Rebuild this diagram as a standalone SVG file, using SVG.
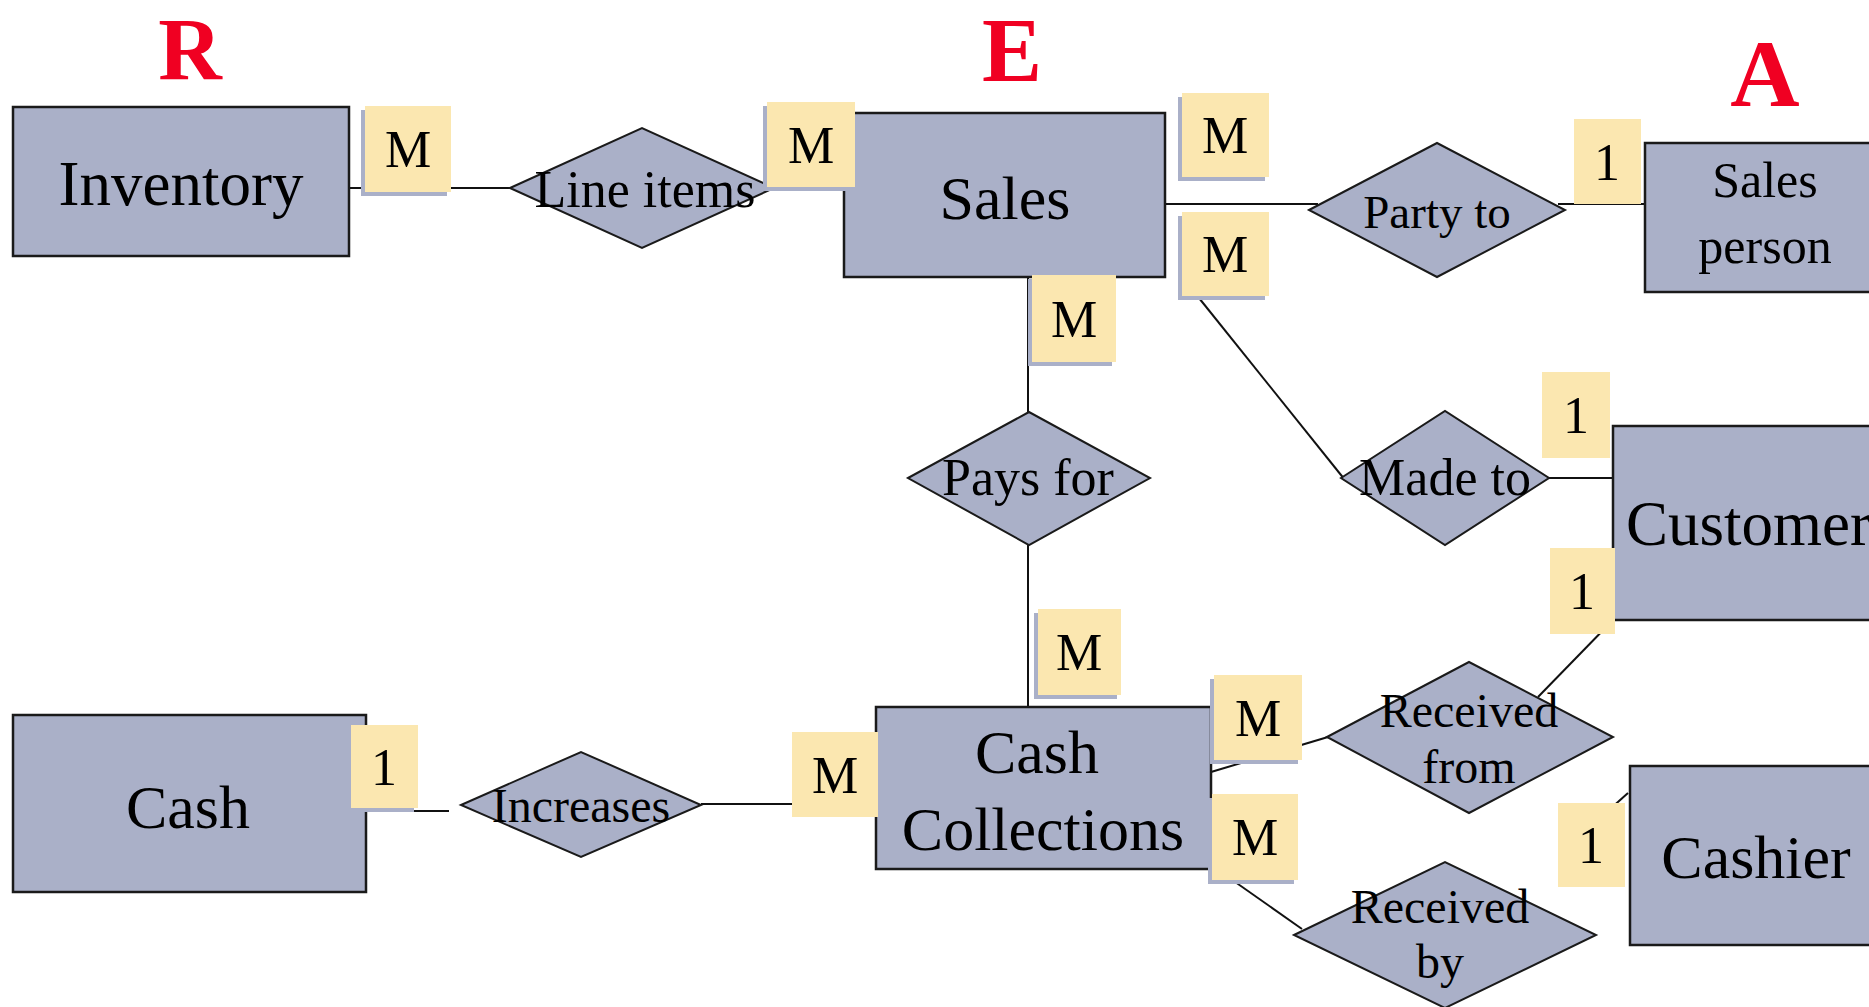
<svg xmlns="http://www.w3.org/2000/svg" width="1869" height="1007" viewBox="0 0 1869 1007">
<style>
.ent{fill:#aab0c8;stroke:#1a1a1a;stroke-width:2.5}
.rel{fill:#aab0c8;stroke:#1a1a1a;stroke-width:2}
.lab{fill:#fbe7b0}
.sh{fill:#aab0c8}
.t{font-family:"Liberation Serif","Times New Roman",serif;fill:#000;text-anchor:middle}
.title{font-family:"Liberation Serif","Times New Roman",serif;font-weight:bold;fill:#f00022;text-anchor:middle}
.conn line{stroke:#111;stroke-width:2;fill:none}
</style>
<rect width="1869" height="1007" fill="#fff"/>
<g id="titles">
<text class="title" x="190" y="79" font-size="88">R</text>
<text class="title" x="1012" y="81" font-size="90">E</text>
<text class="title" x="1765" y="106" font-size="96">A</text>
</g>
<g id="connectors" class="conn">
<line x1="349" y1="188" x2="510" y2="188"/>
<line x1="774" y1="190" x2="844" y2="190"/>
<line x1="1165" y1="204" x2="1318" y2="204"/>
<line x1="1558" y1="204" x2="1645" y2="204"/>
<line x1="1199" y1="298" x2="1345" y2="480"/>
<line x1="1549" y1="478" x2="1613" y2="478"/>
<line x1="1028" y1="277" x2="1028" y2="412"/>
<line x1="1028" y1="545" x2="1028" y2="707"/>
<line x1="366" y1="811" x2="449" y2="811"/>
<line x1="701" y1="804" x2="876" y2="804"/>
<line x1="1211" y1="772" x2="1328" y2="737"/>
<line x1="1538" y1="697" x2="1613" y2="620"/>
<line x1="1211" y1="865" x2="1302" y2="929"/>
<line x1="1600" y1="818" x2="1628" y2="793"/>
</g>
<g id="inventory"><rect class="ent" x="13" y="107" width="336" height="149"/><text class="t" x="181" y="205" font-size="63">Inventory</text></g>
<g id="sales"><rect class="ent" x="844" y="113" width="321" height="164"/><text class="t" x="1005" y="219" font-size="62">Sales</text></g>
<g id="salesperson"><rect class="ent" x="1645" y="143" width="240" height="149"/><text class="t" x="1765" y="197" font-size="50">Sales</text><text class="t" x="1765" y="263" font-size="50">person</text></g>
<g id="customer"><rect class="ent" x="1613" y="426" width="280" height="194"/><text class="t" x="1626" y="545" font-size="63" style="text-anchor:start">Customer</text></g>
<g id="cashier"><rect class="ent" x="1630" y="766" width="260" height="179"/><text class="t" x="1756" y="878" font-size="62">Cashier</text></g>
<g id="cash"><rect class="ent" x="13" y="715" width="353" height="177"/><text class="t" x="188" y="828" font-size="62">Cash</text></g>
<g id="cashcollections"><rect class="ent" x="876" y="707" width="335" height="162"/><text class="t" x="1037" y="773" font-size="62">Cash</text><text class="t" x="1043" y="850" font-size="62">Collections</text></g>
<g id="lineitems"><polygon class="rel" points="510,188 642,128 774,188 642,248"/><text class="t" x="645" y="207" font-size="52">Line items</text></g>
<g id="partyto"><polygon class="rel" points="1309,210 1437,143 1565,210 1437,277"/><text class="t" x="1437" y="228" font-size="47">Party to</text></g>
<g id="paysfor"><polygon class="rel" points="908,478 1029,412 1150,478 1029,545"/><text class="t" x="1028" y="495" font-size="52">Pays for</text></g>
<g id="madeto"><polygon class="rel" points="1341,478 1445,411 1549,478 1445,545"/><text class="t" x="1445" y="495" font-size="52">Made to</text></g>
<g id="increases"><polygon class="rel" points="461,805 581,752 701,805 581,857"/><text class="t" x="581" y="822" font-size="48">Increases</text></g>
<g id="receivedfrom"><polygon class="rel" points="1327,737 1469,662 1613,737 1469,813"/><text class="t" x="1469" y="727" font-size="48">Received</text><text class="t" x="1469" y="783" font-size="48">from</text></g>
<g id="receivedby"><polygon class="rel" points="1294,935 1445,862 1596,935 1445,1008"/><text class="t" x="1440" y="923" font-size="48">Received</text><text class="t" x="1440" y="978" font-size="48">by</text></g>
<g id="labels">
<g id="l1"><rect class="sh" x="361" y="110" width="86" height="86"/><rect class="lab" x="365" y="106" width="86" height="86"/><text class="t" x="408" y="167" font-size="52">M</text></g>
<g id="l2"><rect class="sh" x="763" y="106" width="88" height="85"/><rect class="lab" x="767" y="102" width="88" height="85"/><text class="t" x="811" y="163" font-size="52">M</text></g>
<g id="l3"><rect class="sh" x="1178" y="97" width="87" height="84"/><rect class="lab" x="1182" y="93" width="87" height="84"/><text class="t" x="1225" y="153" font-size="52">M</text></g>
<g id="l4"><rect class="sh" x="1178" y="216" width="87" height="84"/><rect class="lab" x="1182" y="212" width="87" height="84"/><text class="t" x="1225" y="272" font-size="52">M</text></g>
<g id="l5"><rect class="lab" x="1574" y="119" width="67" height="85"/><text class="t" x="1607" y="180" font-size="52">1</text></g>
<g id="l6"><rect class="sh" x="1028" y="279" width="84" height="87"/><rect class="lab" x="1032" y="275" width="84" height="87"/><text class="t" x="1074" y="337" font-size="52">M</text></g>
<g id="l7"><rect class="lab" x="1542" y="372" width="68" height="86"/><text class="t" x="1576" y="433" font-size="52">1</text></g>
<g id="l8"><rect class="lab" x="1550" y="548" width="65" height="86"/><text class="t" x="1582" y="609" font-size="52">1</text></g>
<g id="l9"><rect class="sh" x="1034" y="613" width="83" height="86"/><rect class="lab" x="1038" y="609" width="83" height="86"/><text class="t" x="1079" y="670" font-size="52">M</text></g>
<g id="l10"><rect class="sh" x="1210" y="679" width="88" height="85"/><rect class="lab" x="1214" y="675" width="88" height="85"/><text class="t" x="1258" y="736" font-size="52">M</text></g>
<g id="l11"><rect class="sh" x="1208" y="798" width="86" height="86"/><rect class="lab" x="1212" y="794" width="86" height="86"/><text class="t" x="1255" y="855" font-size="52">M</text></g>
<g id="l12"><rect class="lab" x="1558" y="803" width="67" height="84"/><text class="t" x="1591" y="863" font-size="52">1</text></g>
<g id="l13"><rect class="sh" x="347" y="729" width="67" height="83"/><rect class="lab" x="351" y="725" width="67" height="83"/><text class="t" x="384" y="785" font-size="52">1</text></g>
<g id="l14"><rect class="lab" x="792" y="732" width="86" height="85"/><text class="t" x="835" y="793" font-size="52">M</text></g>
</g>
</svg>
